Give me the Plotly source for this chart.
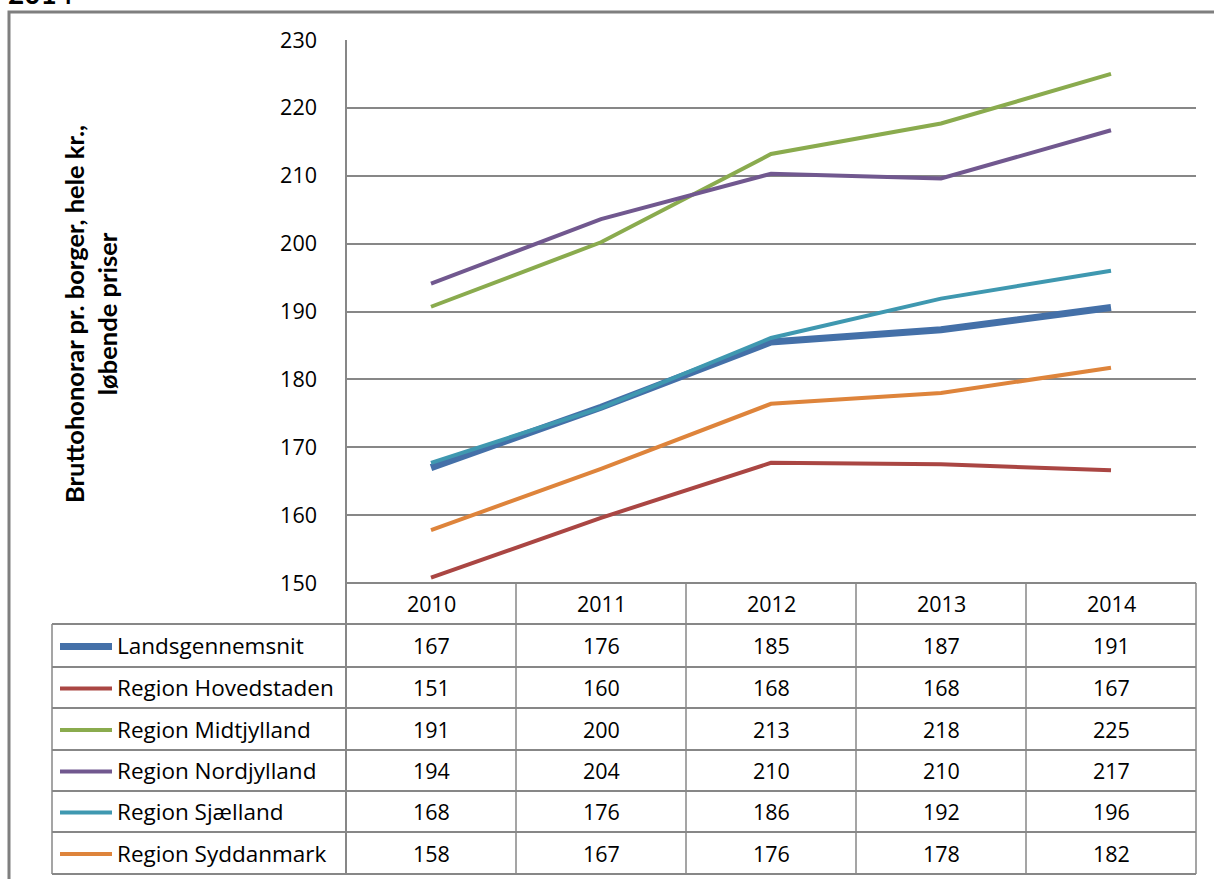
import plotly.graph_objects as go

W, H = 1214, 879

years = ["2010", "2011", "2012", "2013", "2014"]
series_names = [
    "Landsgennemsnit",
    "Region Hovedstaden",
    "Region Midtjylland",
    "Region Nordjylland",
    "Region Sjælland",
    "Region Syddanmark",
]
landsgennemsnit = [167.0, 175.9, 185.5, 187.3, 190.6]
hovedstaden = [150.8, 159.6, 167.7, 167.5, 166.6]
midtjylland = [190.7, 200.2, 213.2, 217.7, 225.0]
nordjylland = [194.1, 203.6, 210.3, 209.6, 216.7]
sjaelland = [167.7, 175.8, 186.1, 191.9, 196.0]
syddanmark = [157.8, 166.8, 176.4, 178.0, 181.7]
series_values = [landsgennemsnit, hovedstaden, midtjylland, nordjylland, sjaelland, syddanmark]

# Values printed in the data table under the chart
table_landsgennemsnit = ["167", "176", "185", "187", "191"]
table_hovedstaden = ["151", "160", "168", "168", "167"]
table_midtjylland = ["191", "200", "213", "218", "225"]
table_nordjylland = ["194", "204", "210", "210", "217"]
table_sjaelland = ["168", "176", "186", "192", "196"]
table_syddanmark = ["158", "167", "176", "178", "182"]
table_rows = [table_landsgennemsnit, table_hovedstaden, table_midtjylland,
              table_nordjylland, table_sjaelland, table_syddanmark]

y_ticks = [150, 160, 170, 180, 190, 200, 210, 220, 230]
y_title = "Bruttohonorar pr. borger, hele kr.,<br>løbende priser"
top_title = "2014"

colors = ["#4470A8", "#AA4643", "#8AAB4E", "#71588F", "#3F98B0", "#DE843B"]
widths = [7, 4, 4, 4, 4, 4]

FONT = "Open Sans"
TFONT = "Lato"
FS = 21.5
LFS = 22.5
GRID = "#878787"

# layout geometry in pixels
PL, PR, PT, PB = 346, 1196, 40, 583
TL = 52
row_lines = [583, 624, 667, 708, 750, 791, 832, 874]


def px(x):
    return x / W


def py(y):
    return 1 - y / H


fig = go.Figure()
for name, vals, c, w in zip(series_names, series_values, colors, widths):
    fig.add_trace(go.Scatter(x=years, y=vals, mode="lines", name=name,
                             line=dict(color=c, width=w), showlegend=False,
                             hoverinfo="x+y+name"))

shapes = []
# outer chart border
shapes.append(dict(type="rect", xref="paper", yref="paper",
                   x0=px(9), x1=px(W + 20), y0=py(12), y1=py(H + 20),
                   line=dict(color="#7F7F7F", width=3), layer="below"))
# left axis line (through the table)
shapes.append(dict(type="line", xref="paper", yref="paper",
                   x0=px(PL), x1=px(PL), y0=py(PT), y1=py(row_lines[-1]),
                   line=dict(color=GRID, width=2)))
# table horizontal lines
for i, yy in enumerate(row_lines):
    x0 = PL if i == 0 else TL
    shapes.append(dict(type="line", xref="paper", yref="paper",
                       x0=px(x0), x1=px(PR), y0=py(yy), y1=py(yy),
                       line=dict(color=GRID, width=2)))
# table vertical lines
col_w = (PR - PL) / len(years)
for k in range(1, len(years) + 1):
    xx = PL + k * col_w
    shapes.append(dict(type="line", xref="paper", yref="paper",
                       x0=px(xx), x1=px(xx), y0=py(row_lines[0]), y1=py(row_lines[-1]),
                       line=dict(color=GRID, width=1.5)))
shapes.append(dict(type="line", xref="paper", yref="paper",
                   x0=px(TL), x1=px(TL), y0=py(row_lines[1]), y1=py(row_lines[-1]),
                   line=dict(color=GRID, width=1.5)))

annotations = []
# header row
for k, yr in enumerate(years):
    cx = PL + (k + 0.5) * col_w
    annotations.append(dict(x=px(cx), y=py((row_lines[0] + row_lines[1]) / 2),
                            xref="paper", yref="paper", text=yr, showarrow=False,
                            font=dict(family=FONT, size=FS, color="#000000"),
                            xanchor="center", yanchor="middle"))
# legend keys + values
for r, (name, c, w, row) in enumerate(zip(series_names, colors, widths, table_rows)):
    cy = (row_lines[r + 1] + row_lines[r + 2]) / 2
    shapes.append(dict(type="line", xref="paper", yref="paper",
                       x0=px(60), x1=px(112), y0=py(cy + 1), y1=py(cy + 1),
                       line=dict(color=c, width=w)))
    annotations.append(dict(x=px(115), y=py(cy), xref="paper", yref="paper",
                            text=name, showarrow=False,
                            font=dict(family=FONT, size=LFS, color="#000000"),
                            xanchor="left", yanchor="middle"))
    for k, v in enumerate(row):
        cx = PL + (k + 0.5) * col_w
        annotations.append(dict(x=px(cx), y=py(cy), xref="paper", yref="paper",
                                text=v, showarrow=False,
                                font=dict(family=FONT, size=FS, color="#000000"),
                                xanchor="center", yanchor="middle"))
# y-axis title
annotations.append(dict(x=px(90), y=py(314), xref="paper", yref="paper",
                        text=y_title, showarrow=False, textangle=-90,
                        font=dict(family=TFONT, size=25.5, color="#000000", weight="bold"),
                        xanchor="center", yanchor="middle"))
# clipped title at top
annotations.append(dict(x=px(6), y=py(12), xref="paper", yref="paper",
                        text=top_title, showarrow=False,
                        font=dict(family=TFONT, size=28, color="#000000", weight="bold"),
                        xanchor="left", yanchor="bottom"))

fig.update_layout(
    template="none",
    width=W, height=H,
    margin=dict(l=0, r=0, t=0, b=0, autoexpand=False),
    paper_bgcolor="white", plot_bgcolor="white",
    shapes=shapes, annotations=annotations,
    xaxis=dict(domain=[px(PL), px(PR)], type="category", range=[-0.5, 4.5],
               showticklabels=False, showgrid=False, zeroline=False,
               showline=False, ticks="", automargin=False),
    yaxis=dict(domain=[py(PB), py(PT)], range=[150, 230], tickvals=y_ticks,
               showgrid=True, gridcolor=GRID, gridwidth=1.5, zeroline=False,
               showline=False, ticks="", ticklabelstandoff=28, automargin=False,
               tickfont=dict(family=FONT, size=FS, color="#000000")),
)

fig.write_html("out.html", config={"displayModeBar": False},
               post_script="document.body.style.margin='0';")
